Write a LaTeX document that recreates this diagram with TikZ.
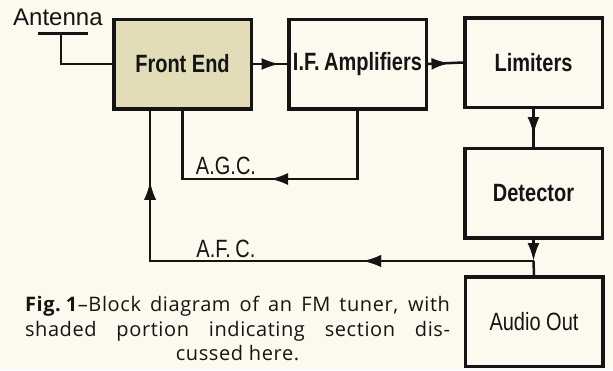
\documentclass[tikz,border=0pt]{standalone}
\usepackage{fontspec}
\usetikzlibrary{arrows.meta,decorations.markings,calc}
\newfontfamily\boxfont[FakeStretch=0.8]{Liberation Sans}
\newfontfamily\antfont{Liberation Sans}
\newfontfamily\capfont[LetterSpace=3]{Open Sans}
\definecolor{paper}{HTML}{FCFAEE}
\definecolor{khaki}{HTML}{E2DCB8}
\definecolor{ink}{HTML}{141414}
\begin{document}
\begin{tikzpicture}[x=1pt,y=-1pt,
  blockbox/.style={draw=ink,line width=3.5pt,minimum width=137.5pt,minimum height=89.5pt,inner sep=0pt,
    font=\boxfont\bfseries\fontsize{25}{28}\selectfont,text=ink},
  conn/.style={draw=ink,line width=2.5pt},
  lab/.style={font=\boxfont\fontsize{25}{28}\selectfont,text=ink,inner sep=0pt},
  arrowat/.style={postaction={decorate},decoration={markings,
    mark=at position #1 with {\arrow{Latex[length=18pt,width=12pt]}}}}
]
\useasboundingbox (0,0) rectangle (613,370);
\fill[paper] (0,0) rectangle (613,370);

% blocks
\node[blockbox,fill=khaki] (fe)  at (182.5,64)  {\raisebox{-6pt}{Front End}};
\node[blockbox,fill=paper] (if)  at (357.5,64)  {\raisebox{-6pt}{I.F.\kern-1pt\ Amplifiers}};
\node[blockbox,fill=paper] (lim) at (533.5,62.5) {\raisebox{-5pt}{Limiters}};
\node[blockbox,fill=paper] (det) at (533.5,193) {Detector};
\node[blockbox,fill=paper,font=\boxfont\fontsize{25}{28}\selectfont] (aud) at (534,321.5) {Audio Out};

% antenna
\node[font=\antfont\fontsize{24}{26}\selectfont,text=ink,inner sep=0pt,anchor=base west] (antlab) at (13,25) {Antenna};
\coordinate (antL) at (38,33.5);
\coordinate (antR) at (88,33.5);
\coordinate (antF) at (61,33.5);
\draw[ink,line width=3.5pt] (antL) -- (antR);
\draw[conn] (antF) |- (fe.west);

% forward chain
\draw[conn,arrowat=26.5pt] (fe.east) -- (if.west);
\draw[conn,arrowat=21.5pt] (if.east) -- (lim.west);
\draw[conn,arrowat=26pt] (lim.south) -- (det.north);

% detector to audio and AFC junction
\coordinate (jy) at (0,261);
\coordinate (jn) at (det.south |- jy);
\draw[conn,-{Latex[length=18pt,width=12pt]}] (det.south) -- (jn);
\draw[conn] (jn) -- (aud.north);

% AGC loop
\coordinate (agcy) at (0,179);
\draw[conn,arrowat=156pt] (if.south) |- (fe.south |- agcy) -- (fe.south);
\node[lab] (agc) at (226,165.5) {A.G.C.};

% AFC loop
\coordinate (afcx) at ($(fe.south west)!0.27!(fe.south east)$);
\draw[conn,arrowat=170.5pt,arrowat=462.5pt] (jn) -| (afcx);
\node[lab] (afc) at (226,248.5) {A.F.\kern-1pt\ C.};

% caption
\node[font=\capfont\fontsize{20}{24.5}\selectfont,text=ink,align=center,inner sep=0pt,anchor=north] (cap) at (237.5,296)
  {\makebox[425pt][s]{\textbf{Fig.\hspace{5pt}1}–Block diagram of an FM tuner, with}\\
   \makebox[425pt][s]{shaded portion indicating section dis-}\\
   cussed here.};
\end{tikzpicture}
\end{document}
